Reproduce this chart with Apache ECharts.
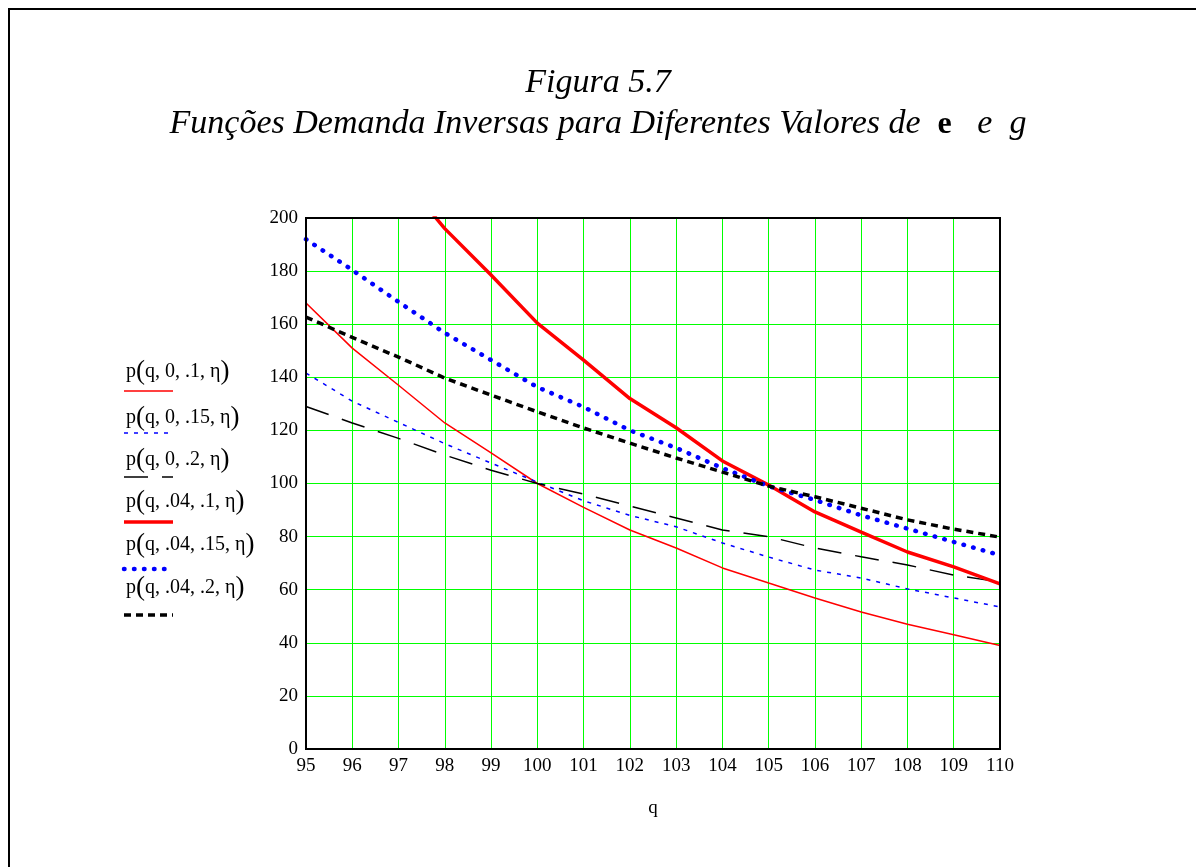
<!DOCTYPE html>
<html>
<head>
<meta charset="utf-8">
<script src="https://cdn.jsdelivr.net/npm/echarts@6/dist/echarts.min.js"></script>
<style>
  html, body { margin: 0; padding: 0; background: #fff; }
  #chart { width: 1196px; height: 867px; }
</style>
</head>
<body>
<div id="chart"></div>
<script>
// q values (x axis)
const qValues = [95, 96, 97, 98, 99, 100, 101, 102, 103, 104, 105, 106, 107, 108, 109, 110]

// p(q, a, b, eta)
const p_0_10 = [168, 151, 137, 122.8, 111.5, 100, 91, 82.5, 75.7, 68.2, 62.5, 56.9, 51.6, 47, 43, 39]
const p_0_15 = [141.6, 131, 123, 115, 107.7, 100.5, 93.5, 88, 83.7, 77.6, 72.3, 67.4, 64.4, 60.3, 56.9, 53.5]
const p_0_20 = [129, 122.8, 117, 110.7, 105, 100, 96, 91.5, 87, 82.5, 80, 75.7, 72.4, 69.3, 65.5, 62.9]
const p_04_10 = [null, null, 217, 196, 178.5, 160.4, 146.5, 132, 121, 108.5, 99.4, 89.3, 81.7, 74.2, 68.6, 62.2]
const p_04_15 = [192, 180.4, 168.4, 156.7, 146.5, 136.3, 128.8, 120, 113.4, 105.8, 99, 93.8, 88, 83, 78, 73]
const p_04_20 = [162.7, 155, 147.6, 139.7, 133.3, 127, 120.9, 115.2, 109.6, 104.3, 99, 95, 90.7, 86.3, 82.8, 79.8]

// legend labels, split as args so the big parentheses can be drawn apart
const seriesArgs = ['q, 0, .1, η', 'q, 0, .15, η', 'q, 0, .2, η', 'q, .04, .1, η', 'q, .04, .15, η', 'q, .04, .2, η']
const seriesNames = seriesArgs.map(a => 'p(' + a + ')')
const seriesData = [p_0_10, p_0_15, p_0_20, p_04_10, p_04_15, p_04_20]

const lineStyles = [
  { color: '#ff0000', width: 1.5, type: 'solid' },
  { color: '#0000ff', width: 1.5, type: [4, 6] },
  { color: '#000000', width: 1.5, type: [24, 14] },
  { color: '#ff0000', width: 3.5, type: 'solid' },
  { color: '#0000ff', width: 4.5, type: [0.5, 9.5], cap: 'round' },
  { color: '#000000', width: 3.5, type: [7, 5] }
]

const serif = '"Liberation Serif", "DejaVu Serif", serif'

const series = seriesNames.map((name, i) => {
  return {
    name: name,
    type: 'line',
    data: qValues.map((q, k) => [q, seriesData[i][k]]),
    symbol: 'none',
    clip: true,
    lineStyle: lineStyles[i],
    z: 3
  }
})

// legend drawn like the original: text with a line sample under it
const legendTextY = [372, 418, 460, 502, 545, 588]
const legendLineY = [391, 433, 477, 522, 569, 615]
const legendGraphics = []
seriesArgs.forEach((args, i) => {
  legendGraphics.push({
    type: 'text',
    x: 126,
    y: legendTextY[i],
    style: {
      text: '{t|p}{p|(}{t|' + args + '}{p|)}',
      verticalAlign: 'middle',
      rich: {
        t: { font: '20px ' + serif, fill: '#000' },
        p: { font: '27px ' + serif, fill: '#000' }
      }
    }
  })
  const ls = lineStyles[i]
  legendGraphics.push({
    type: 'line',
    shape: { x1: 124, y1: legendLineY[i], x2: 173, y2: legendLineY[i] },
    style: {
      stroke: ls.color,
      lineWidth: ls.width,
      lineDash: Array.isArray(ls.type) ? ls.type : null,
      lineCap: ls.cap || 'butt'
    }
  })
})

const option = {
  backgroundColor: '#fff',
  animation: false,
  title: {
    left: 'center',
    top: 58,
    text: '{i|Figura 5.7}\n{i|Funções Demanda Inversas para Diferentes Valores de  }{b|e}{i|   e  g}',
    textStyle: {
      fontWeight: 'normal',
      rich: {
        i: { fontFamily: serif, fontStyle: 'italic', fontWeight: 'normal', fontSize: 34, color: '#000', lineHeight: 41 },
        b: { fontFamily: serif, fontWeight: 'bold', fontSize: 32, color: '#000', lineHeight: 41 }
      }
    }
  },
  grid: {
    left: 306,
    top: 218,
    right: 196,
    bottom: 118,
    show: true,
    borderColor: '#000',
    borderWidth: 2,
    z: 4
  },
  xAxis: {
    type: 'value',
    min: 95,
    max: 110,
    interval: 1,
    name: 'q',
    nameLocation: 'middle',
    nameGap: 50,
    nameTextStyle: { fontFamily: serif, fontSize: 19, color: '#000' },
    axisLine: { show: true, lineStyle: { color: '#000', width: 2 } },
    axisTick: { show: false },
    axisLabel: { fontFamily: serif, fontSize: 19, color: '#000', margin: 8 },
    splitLine: { show: true, lineStyle: { color: '#00ff00', width: 1 } }
  },
  yAxis: {
    type: 'value',
    min: 0,
    max: 200,
    interval: 20,
    axisLine: { show: true, lineStyle: { color: '#000', width: 2 } },
    axisTick: { show: false },
    axisLabel: { fontFamily: serif, fontSize: 19, color: '#000', margin: 8 },
    splitLine: { show: true, lineStyle: { color: '#00ff00', width: 1 } }
  },
  graphic: [
    {
      type: 'rect',
      shape: { x: 9, y: 9, width: 1300, height: 1000 },
      style: { fill: 'none', stroke: '#000', lineWidth: 2 }
    }
  ].concat(legendGraphics),
  series: series
}

const mychart = echarts.init(document.getElementById('chart'))
mychart.setOption(option)
</script>
</body>
</html>
